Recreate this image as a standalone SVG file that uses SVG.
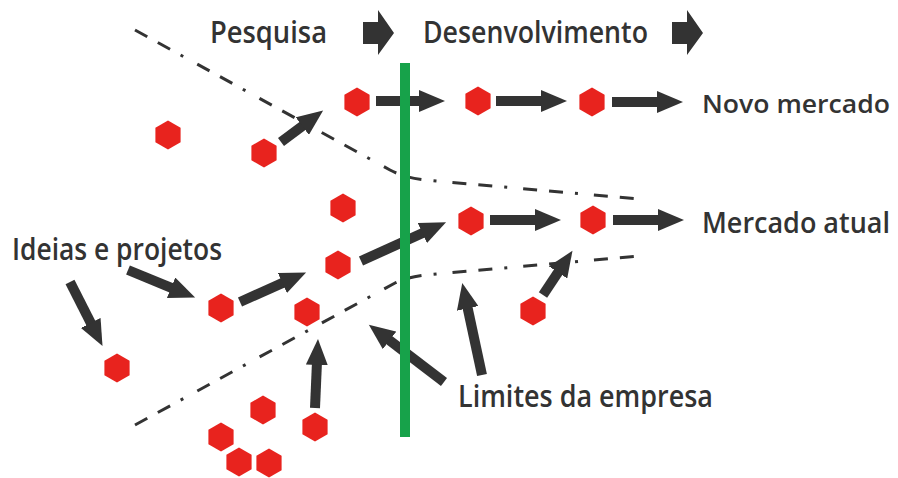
<svg xmlns="http://www.w3.org/2000/svg" xmlns:xlink="http://www.w3.org/1999/xlink" width="898" height="478" viewBox="0 0 898 478">
  <style>
    .lbl { font-family: "Open Sans", "DejaVu Sans", sans-serif; font-weight: 600; font-size: 31px; fill: #333333; }
    .rt { font-size: 28px; }
    .rt2 { font-size: 26px; }
    .hex { fill: #e8231e; }
    .arr { stroke: #333333; stroke-width: 10; fill: none; marker-end: url(#head); }
    .bound { stroke: #333333; stroke-width: 3; fill: none; stroke-dasharray: 14 12 14 12 3 16; }
    .blk { fill: #333333; }
  </style>
  <defs>
    <marker id="head" markerUnits="userSpaceOnUse" markerWidth="27" markerHeight="22" refX="1" refY="11" orient="auto">
      <path d="M0,0 L26,11 L0,22 Z" fill="#333333"/>
    </marker>
    <path id="hx" d="M0,-14.5 L12.6,-7.25 L12.6,7.25 L0,14.5 L-12.6,7.25 L-12.6,-7.25 Z"/>
  </defs>
  <rect width="898" height="478" fill="#ffffff"/>

  <g id="header">
    <text class="lbl" x="210" y="43" textLength="117" lengthAdjust="spacingAndGlyphs">Pesquisa</text>
    <polygon class="blk" points="363,22 378,22 378,10 394,33 378,55 378,44 363,44"/>
    <text class="lbl" x="423" y="43" textLength="225" lengthAdjust="spacingAndGlyphs">Desenvolvimento</text>
    <polygon class="blk" points="672,22 687,22 687,10 703,33 687,55 687,44 672,44"/>
  </g>

  <g id="boundaries">
    <path class="bound" d="M135,30 L390,170 Q405,178 425,180 L640,199"/>
    <path class="bound" d="M135,425 L395,283 Q408,277 425,275 L640,256"/>
  </g>

  <g id="connectors">
    <path class="arr" d="M281,142 L303.1,125.5"/>
    <path class="arr" d="M376,101 L420,101"/>
    <path class="arr" d="M496,101 L542,101"/>
    <path class="arr" d="M612,102 L658,102"/>
    <path class="arr" d="M490,220 L536,220"/>
    <path class="arr" d="M613,220 L659,220"/>
    <path class="arr" d="M361,261 L423.3,232.7"/>
    <path class="arr" d="M240,302 L283.3,282.6"/>
    <path class="arr" d="M128,270 L172,288.1"/>
    <path class="arr" d="M70,282 L91.2,323.8"/>
    <path class="arr" d="M315,408 L316.9,364"/>
    <path class="arr" d="M444,382 L388.7,339.8"/>
    <path class="arr" d="M482,375 L467.5,307.4"/>
    <path class="arr" d="M543,295 L558.6,271.6"/>
  </g>

  <g id="nodes">
    <use id="n1" class="hex" xlink:href="#hx" x="168" y="135"/>
    <use id="n2" class="hex" xlink:href="#hx" x="264" y="153"/>
    <use id="n3" class="hex" xlink:href="#hx" x="357" y="102"/>
    <use id="n4" class="hex" xlink:href="#hx" x="478" y="101"/>
    <use id="n5" class="hex" xlink:href="#hx" x="592" y="102"/>
    <use id="n6" class="hex" xlink:href="#hx" x="343" y="208"/>
    <use id="n7" class="hex" xlink:href="#hx" x="338" y="265"/>
    <use id="n8" class="hex" xlink:href="#hx" x="221" y="308"/>
    <use id="n9" class="hex" xlink:href="#hx" x="307" y="312"/>
    <use id="n10" class="hex" xlink:href="#hx" x="471" y="221"/>
    <use id="n11" class="hex" xlink:href="#hx" x="593" y="220"/>
    <use id="n12" class="hex" xlink:href="#hx" x="533" y="311"/>
    <use id="n13" class="hex" xlink:href="#hx" x="117" y="368"/>
    <use id="n14" class="hex" xlink:href="#hx" x="263" y="410"/>
    <use id="n15" class="hex" xlink:href="#hx" x="315" y="427"/>
    <use id="n16" class="hex" xlink:href="#hx" x="221" y="437"/>
    <use id="n17" class="hex" xlink:href="#hx" x="239" y="462"/>
    <use id="n18" class="hex" xlink:href="#hx" x="269" y="463"/>
  </g>

  <g id="company-limit">
    <rect x="400" y="63" width="10" height="374" fill="#17a24a"/>
  </g>

  <g id="labels">
    <text id="novo" class="lbl rt2" x="702" y="113" textLength="188" lengthAdjust="spacingAndGlyphs">Novo mercado</text>
    <text id="atual" class="lbl rt" x="702" y="233" textLength="188" lengthAdjust="spacingAndGlyphs">Mercado atual</text>
    <text id="ideias" class="lbl" x="12" y="260" textLength="210" lengthAdjust="spacingAndGlyphs">Ideias e projetos</text>
    <text id="limites" class="lbl" x="458" y="407" textLength="255" lengthAdjust="spacingAndGlyphs">Limites da empresa</text>
  </g>
</svg>
